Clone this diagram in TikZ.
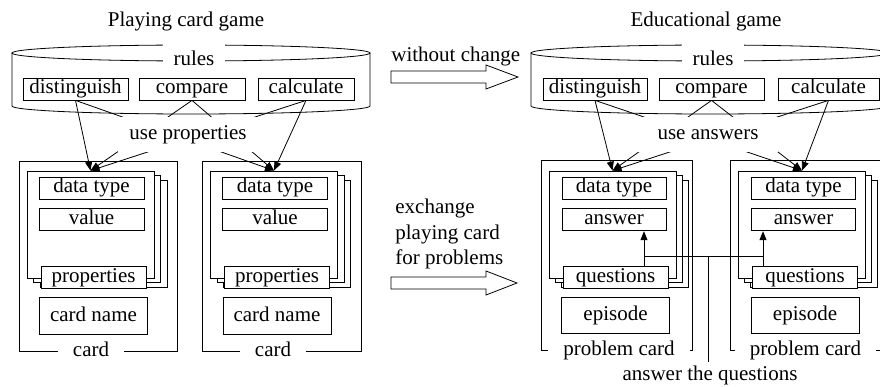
\documentclass[tikz,border=0pt]{standalone}
\usepackage{fontspec}
\setmainfont{Liberation Serif}
\usepackage{tikz}
\usetikzlibrary{arrows.meta, positioning}

\begin{document}
\begin{tikzpicture}[x=1pt, y=-1pt, line width=0.8pt, >={Triangle[length=9pt,width=7pt]},
    every node/.style={font=\fontsize{21}{25.5}\selectfont}]
      \tikzstyle{txt} = [text height=14.5pt, text depth=4.5pt]
      \tikzstyle{rulebox} = [txt, rectangle, draw, fill=white, minimum height=22pt, inner sep=1pt]
      \tikzstyle{sheetbox} = [rectangle, draw, fill=white, minimum width=127pt, minimum height=107pt]
      \tikzstyle{fieldbox} = [txt, rectangle, draw, fill=white, minimum width=105pt, minimum height=22pt, inner sep=1pt]
      \tikzstyle{cardframe} = [rectangle, draw, minimum height=190pt]
      \tikzstyle{cardtag} = [txt, fill=white, inner xsep=15pt, inner ysep=1pt]
      \tikzstyle{rulestag} = [txt, fill=white, minimum width=62pt, minimum height=34pt, inner sep=0pt]
      \tikzstyle{hubtag} = [txt, fill=white, minimum width=140pt, minimum height=35pt, inner sep=0pt]

      \useasboundingbox (0,0) rectangle (880,387);
      \clip (0,0) rectangle (880,387);

      % Titles
      \node (pcg) [txt] at (186,22) {Playing card game};
      \node (edg) [txt] at (706,22) {Educational game};

      % Rules (cylinders)
      \draw (12,53) -- (12,106) arc[start angle=180, end angle=360, x radius=179pt, y radius=8pt] -- (370,53);
      \draw (191,53) ellipse [x radius=179pt, y radius=8pt];
      \draw (531,53) -- (531,106) arc[start angle=180, end angle=360, x radius=179pt, y radius=8pt] -- (889,53);
      \draw (710,53) ellipse [x radius=179pt, y radius=8pt];
      \node (rules1) [rulestag] at (194,61) {rules};
      \node (rules2) [rulestag] at (713,61) {rules};

      \node (dis1) [rulebox, minimum width=105pt] at (75.5,89) {distinguish};
      \node (cmp1) [rulebox, minimum width=106pt] at (192,89) {compare};
      \node (cal1) [rulebox, minimum width=96pt] at (306,89) {calculate};
      \node (dis2) [rulebox, minimum width=104pt] at (595,89) {distinguish};
      \node (cmp2) [rulebox, minimum width=105pt] at (711.5,89) {compare};
      \node (cal2) [rulebox, minimum width=101pt] at (828.5,89) {calculate};

      % Card frames
      \node (frm1) [cardframe, minimum width=158pt] at (98,256) {};
      \node (frm2) [cardframe, minimum width=159pt] at (281.5,256) {};
      \node (frm3) [cardframe, minimum width=151pt] at (616.5,255) {};
      \node (frm4) [cardframe, minimum width=151pt] at (805.5,255) {};

      % Card 1
      \node (bk1b) [sheetbox] at (103.5,233.5) {};
      \node (bk1a) [sheetbox] at (97,229) {};
      \node (fr1) [sheetbox] at (90.5,224.5) {};
      \node (dt1) [fieldbox] at (91.5,188) {data type};
      \node (val1) [fieldbox, below=9pt of dt1] {value};
      \node (prp1) [fieldbox] at (93.5,277) {properties};
      \node (nm1) [fieldbox, minimum width=108pt, minimum height=37pt, below=9pt of prp1] {card name};
      \node (lbl1) [cardtag] at (91,351) {card};

      % Card 2
      \node (bk2b) [sheetbox] at (287,233.5) {};
      \node (bk2a) [sheetbox] at (280.5,229) {};
      \node (fr2) [sheetbox] at (274,224.5) {};
      \node (dt2) [fieldbox] at (275,188) {data type};
      \node (val2) [fieldbox, below=9pt of dt2] {value};
      \node (prp2) [fieldbox] at (277,277) {properties};
      \node (nm2) [fieldbox, minimum width=108pt, minimum height=37pt, below=9pt of prp2] {card name};
      \node (lbl2) [cardtag] at (273,351) {card};

      % Problem card 1
      \node (bk3b) [sheetbox] at (624.5,233.5) {};
      \node (bk3a) [sheetbox] at (618.5,229) {};
      \node (fr3) [sheetbox] at (612.5,224.5) {};
      \node (dt3) [fieldbox, minimum width=104pt] at (614,188) {data type};
      \node (ans3) [fieldbox, minimum width=104pt, below=9pt of dt3] {answer};
      \node (qst3) [fieldbox] at (615.5,277) {questions};
      \node (epi3) [fieldbox, minimum width=108pt, minimum height=36pt, below=9pt of qst3] {episode};
      \node (lbl3) [cardtag] at (619,350) {problem card};

      % Problem card 2
      \node (bk4b) [sheetbox] at (814,233.5) {};
      \node (bk4a) [sheetbox] at (808,229) {};
      \node (fr4) [sheetbox] at (802,224.5) {};
      \node (dt4) [fieldbox, minimum width=104pt] at (803.5,188) {data type};
      \node (ans4) [fieldbox, minimum width=104pt, below=9pt of dt4] {answer};
      \node (qst4) [fieldbox] at (805,277) {questions};
      \node (epi4) [fieldbox, minimum width=108pt, minimum height=36pt, below=9pt of qst4] {episode};
      \node (lbl4) [cardtag] at (805.5,350) {problem card};

      % Rules to cards
      \draw[->] (dis1.south) -- (fr1.north);
      \draw[->] (dis1.south) -- (fr2.north);
      \draw[->] (cmp1.south) -- (fr1.north);
      \draw[->] (cmp1.south) -- (fr2.north);
      \draw[->] (cal1.south) -- (fr1.north);
      \draw[->] (cal1.south) -- (fr2.north);
      \draw[->] (dis2.south) -- (fr3.north);
      \draw[->] (dis2.south) -- (fr4.north);
      \draw[->] (cmp2.south) -- (fr3.north);
      \draw[->] (cmp2.south) -- (fr4.north);
      \draw[->] (cal2.south) -- (fr3.north);
      \draw[->] (cal2.south) -- (fr4.north);
      \node (use1) [hubtag] at (188,134.5) {use properties};
      \node (use2) [hubtag] at (708,134.5) {use answers};

      % Block arrows
      \node (keep) [txt, anchor=west, inner sep=0pt] at (391,57) {without change};
      \draw (391,71) -- (486,71) -- (486,65) -- (518,77) -- (486,89) -- (486,83) -- (391,83) -- cycle;
      \node (swap) [anchor=north west, align=left, inner sep=0pt] at (395,199) {exchange\\playing card\\for problems};
      \draw (391,277) -- (486,277) -- (486,271) -- (517,283) -- (486,295) -- (486,289) -- (391,289) -- cycle;

      % Answer the questions
      \node (atq) [txt, inner ysep=3pt] at (710,375) {answer the questions};
      \coordinate (j) at (708,256);
      \coordinate (j3) at (644,256);
      \coordinate (j4) at (763,256);
      \draw[->] (qst3.north -| j3) -- (ans3.south -| j3);
      \draw[->] (qst4.north -| j4) -- (ans4.south -| j4);
      \draw (j3) -- (j4);
      \draw (atq.north -| j) -- (j);
    \end{tikzpicture}
\end{document}
